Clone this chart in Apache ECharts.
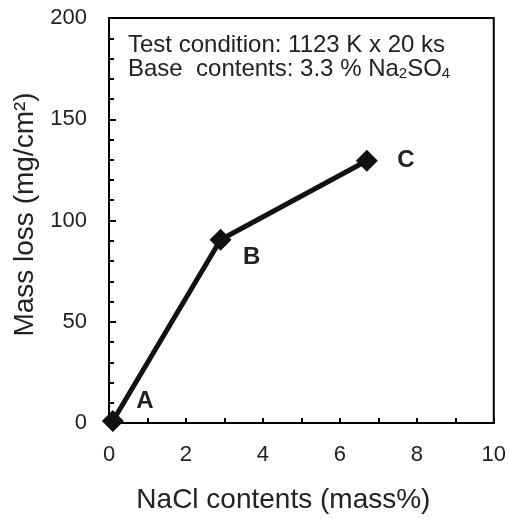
<!DOCTYPE html>
<html>
<head>
<meta charset="utf-8">
<script src="https://cdn.jsdelivr.net/npm/echarts@6/dist/echarts.min.js"></script>
<style>
  html, body { margin: 0; padding: 0; background: #fff; }
  #chart { width: 509px; height: 519px; }
</style>
</head>
<body>
<div id="chart"></div>
<script>
// data
const naclContents = [0.1, 2.9, 6.7];
const massLoss = [1, 90.5, 129.5];
const pointNames = ['A', 'B', 'C'];
const labelOffsets = [[32, -20], [31, 18], [39, 0]];

const chart = echarts.init(document.getElementById('chart'));
const FONT = '"Liberation Sans", Arial, sans-serif';

const option = {
    animation: false,
    grid: {
        left: 109, right: 12, top: 18, bottom: 96,
        show: true, borderColor: '#000', borderWidth: 2
    },
    xAxis: {
        type: 'value', min: 0, max: 10, interval: 2,
        name: 'NaCl contents (mass%)', nameLocation: 'middle', nameGap: 63,
        nameTextStyle: { fontFamily: FONT, fontSize: 28, color: '#222', padding: [0, 36, 0, 0] },
        axisLine: { lineStyle: { color: '#000', width: 2 } },
        axisTick: { inside: true, length: 5, lineStyle: { color: '#000', width: 2 } },
        minorTick: { show: true, splitNumber: 2, length: 5, lineStyle: { color: '#000', width: 2 } },
        splitLine: { show: false },
        axisLabel: { fontFamily: FONT, fontSize: 22, color: '#222', margin: 21 }
    },
    yAxis: {
        type: 'value', min: 0, max: 200, interval: 50,
        name: 'Mass loss (mg/cm²)', nameLocation: 'middle', nameGap: 67,
        nameTextStyle: { fontFamily: FONT, fontSize: 28, color: '#222', padding: [0, 0, 0, 12] },
        axisLine: { lineStyle: { color: '#000', width: 2 } },
        axisTick: { inside: true, length: 7, lineStyle: { color: '#000', width: 2 } },
        minorTick: { show: true, splitNumber: 5, length: 5, lineStyle: { color: '#000', width: 2 } },
        splitLine: { show: false },
        axisLabel: { fontFamily: FONT, fontSize: 22, color: '#222', margin: 22 }
    },
    series: [{
        type: 'line',
        data: naclContents.map((x, i) => ({
            value: [x, massLoss[i]],
            label: {
                show: true,
                formatter: pointNames[i],
                position: 'inside',
                offset: labelOffsets[i],
                fontFamily: FONT, fontSize: 24, fontWeight: 'bold', color: '#222'
            }
        })),
        symbol: 'diamond',
        symbolSize: 22,
        itemStyle: { color: '#111' },
        lineStyle: { color: '#111', width: 5 },
        z: 3
    }],
    graphic: [{
        type: 'text',
        left: 128, top: 33,
        style: {
            text: 'Test condition: 1123 K x 20 ks\n{n|Base  contents: 3.3 % Na}{s|2}{n|SO}{s|4}',
            fontFamily: FONT, fontSize: 24, fill: '#222', lineHeight: 24,
            rich: {
                n: { fontFamily: FONT, fontSize: 24, fill: '#222', lineHeight: 24 },
                s: { fontFamily: FONT, fontSize: 15, fill: '#222', lineHeight: 24, padding: [10, 0, 0, 0] }
            }
        }
    }]
};

chart.setOption(option);
</script>
</body>
</html>
